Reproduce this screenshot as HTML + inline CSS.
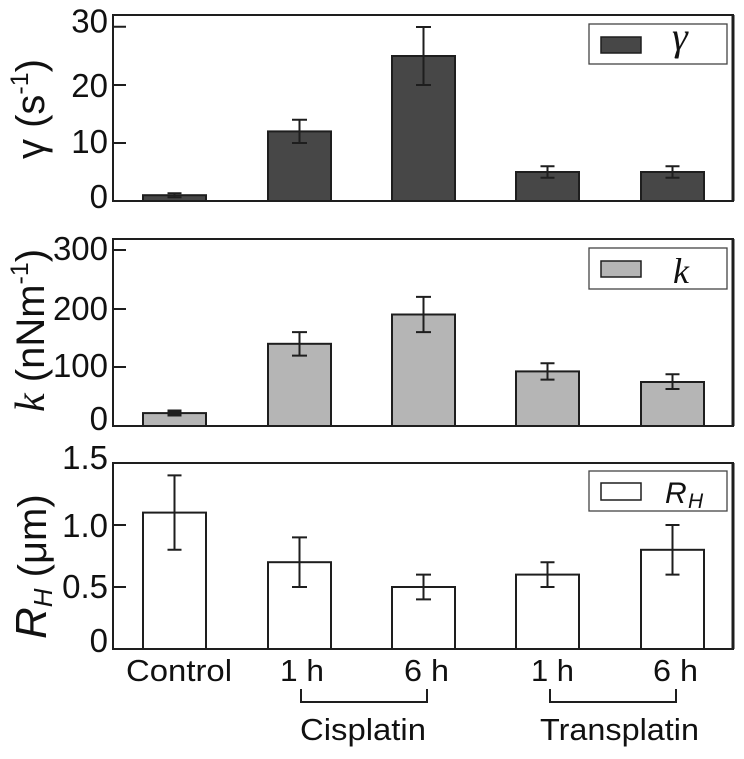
<!DOCTYPE html>
<html><head><meta charset="utf-8"><style>
html,body{margin:0;padding:0;background:#fff;}
svg{display:block;}
text{font-family:"Liberation Sans",Arial,sans-serif;fill:#111;}
.serif{font-family:"Liberation Serif","DejaVu Serif",serif;font-style:italic;}
</style></head><body>
<svg width="744" height="759" viewBox="0 0 744 759" xmlns="http://www.w3.org/2000/svg">
<rect width="744" height="759" fill="#fff"/>

<!-- ===== Panel 1 ===== -->
<g stroke="#1e1e1e" stroke-width="2" fill="#474747">
<rect x="143" y="195.2" width="63" height="5.8"/>
<rect x="268" y="131.4" width="63" height="69.6"/>
<rect x="392" y="56" width="63" height="145"/>
<rect x="516" y="172" width="63" height="29"/>
<rect x="641" y="172" width="63" height="29"/>
</g>
<g stroke="#1e1e1e" stroke-width="2" fill="none">
<path d="M174.5 193.2V197.2M167.5 193.2H181.5M167.5 197.2H181.5"/>
<path d="M299.5 119.8V143M292 119.8H307M292 143H307"/>
<path d="M423.5 27V85M416 27H431M416 85H431"/>
<path d="M547.5 166.2V177.8M540.5 166.2H554.5M540.5 177.8H554.5"/>
<path d="M672.5 166.2V177.8M665.5 166.2H679.5M665.5 177.8H679.5"/>
<rect x="113" y="15" width="620" height="186"/>
<path d="M733 15V201" stroke-width="3"/>
<path d="M113 26.7H126M113 85H126M113 143H126"/>
</g>
<rect x="589" y="24" width="138" height="40" fill="#fff" stroke="#444" stroke-width="1.3"/>
<rect x="601" y="37" width="40" height="16" fill="#474747" stroke="#1e1e1e" stroke-width="1.5"/>
<text x="672" y="50" font-size="40" class="serif">γ</text>
<g font-size="33" text-anchor="end">
<text x="108" y="32.5">30</text>
<text x="108" y="97">20</text>
<text x="108" y="153">10</text>
<text x="108" y="208">0</text>
</g>
<g transform="translate(44,104) rotate(-90)" font-size="40">
<text x="-55" y="0">γ (s<tspan dy="-16" font-size="25">-1</tspan><tspan dy="16">)</tspan></text>
</g>

<!-- ===== Panel 2 ===== -->
<g stroke="#1e1e1e" stroke-width="2" fill="#b5b5b5">
<rect x="143" y="413.1" width="63" height="12.9"/>
<rect x="268" y="343.8" width="63" height="82.2"/>
<rect x="392" y="314.5" width="63" height="111.5"/>
<rect x="516" y="371.4" width="63" height="54.6"/>
<rect x="641" y="382" width="63" height="44"/>
</g>
<g stroke="#1e1e1e" stroke-width="2" fill="none">
<path d="M174.5 411V415M167.5 411H181.5M167.5 415H181.5" stroke-width="3"/>
<path d="M299.5 332.1V355.6M292 332.1H307M292 355.6H307"/>
<path d="M423.5 296.9V332.1M416 296.9H431M416 332.1H431"/>
<path d="M547.5 363.2V379.6M540.5 363.2H554.5M540.5 379.6H554.5"/>
<path d="M672.5 374.3V389M665.5 374.3H679.5M665.5 389H679.5"/>
<rect x="113" y="239" width="620" height="187"/>
<path d="M733 239V426" stroke-width="3"/>
<path d="M113 250H126M113 309H126M113 367H126"/>
</g>
<rect x="589" y="248" width="138" height="41" fill="#fff" stroke="#444" stroke-width="1.3"/>
<rect x="601" y="261" width="40" height="16" fill="#b5b5b5" stroke="#1e1e1e" stroke-width="1.5"/>
<text x="673" y="283" font-size="36" class="serif">k</text>
<g font-size="33" text-anchor="end">
<text x="108" y="260">300</text>
<text x="108" y="320">200</text>
<text x="108" y="377">100</text>
<text x="108" y="430">0</text>
</g>
<g transform="translate(44,331) rotate(-90)" font-size="40">
<text x="-81" y="0"><tspan class="serif" font-size="42">k</tspan> (nNm<tspan dy="-16" font-size="25">-1</tspan><tspan dy="16">)</tspan></text>
</g>

<!-- ===== Panel 3 ===== -->
<g stroke="#1e1e1e" stroke-width="2" fill="#fff">
<rect x="143" y="512.6" width="63" height="136.4"/>
<rect x="268" y="562.2" width="63" height="86.8"/>
<rect x="392" y="587" width="63" height="62"/>
<rect x="516" y="574.6" width="63" height="74.4"/>
<rect x="641" y="549.8" width="63" height="99.2"/>
</g>
<g stroke="#1e1e1e" stroke-width="2" fill="none">
<path d="M174.5 475.4V549.8M167.5 475.4H181.5M167.5 549.8H181.5"/>
<path d="M299.5 537.4V587M292 537.4H307M292 587H307"/>
<path d="M423.5 574.6V599.4M416 574.6H431M416 599.4H431"/>
<path d="M547.5 562.2V587M540.5 562.2H554.5M540.5 587H554.5"/>
<path d="M672.5 525V574.6M665.5 525H679.5M665.5 574.6H679.5"/>
<rect x="113" y="463" width="620" height="186"/>
<path d="M733 463V649" stroke-width="3"/>
<path d="M113 525H126M113 587H126"/>
<path d="M301 689V702H427V689M550 689V702H676V689"/>
</g>
<rect x="589" y="471" width="138" height="40" fill="#fff" stroke="#444" stroke-width="1.3"/>
<rect x="601" y="483" width="40" height="17" fill="#fff" stroke="#1e1e1e" stroke-width="1.5"/>
<text x="665" y="503" font-size="30" font-style="italic">R</text>
<text x="688" y="508" font-size="21" font-style="italic">H</text>
<g font-size="33" text-anchor="end">
<text x="108" y="469">1.5</text>
<text x="108" y="537">1.0</text>
<text x="108" y="598">0.5</text>
<text x="108" y="652">0</text>
</g>
<g transform="translate(46,564) rotate(-90)" font-size="40">
<text x="-75" y="0"><tspan font-style="italic" font-size="44">R</tspan><tspan font-style="italic" font-size="26" dy="6">H</tspan><tspan dy="-6"> (μm)</tspan></text>
</g>

<!-- ===== X labels ===== -->
<g font-size="31">
<text x="126" y="681" textLength="106" lengthAdjust="spacingAndGlyphs">Control</text>
<text x="280" y="681" textLength="44" lengthAdjust="spacingAndGlyphs">1 h</text>
<text x="404" y="681" textLength="45" lengthAdjust="spacingAndGlyphs">6 h</text>
<text x="531" y="681" textLength="43" lengthAdjust="spacingAndGlyphs">1 h</text>
<text x="653" y="681" textLength="45" lengthAdjust="spacingAndGlyphs">6 h</text>
<text x="300" y="740" textLength="126" lengthAdjust="spacingAndGlyphs">Cisplatin</text>
<text x="540" y="740" textLength="159" lengthAdjust="spacingAndGlyphs">Transplatin</text>
</g>
</svg>
</body></html>
